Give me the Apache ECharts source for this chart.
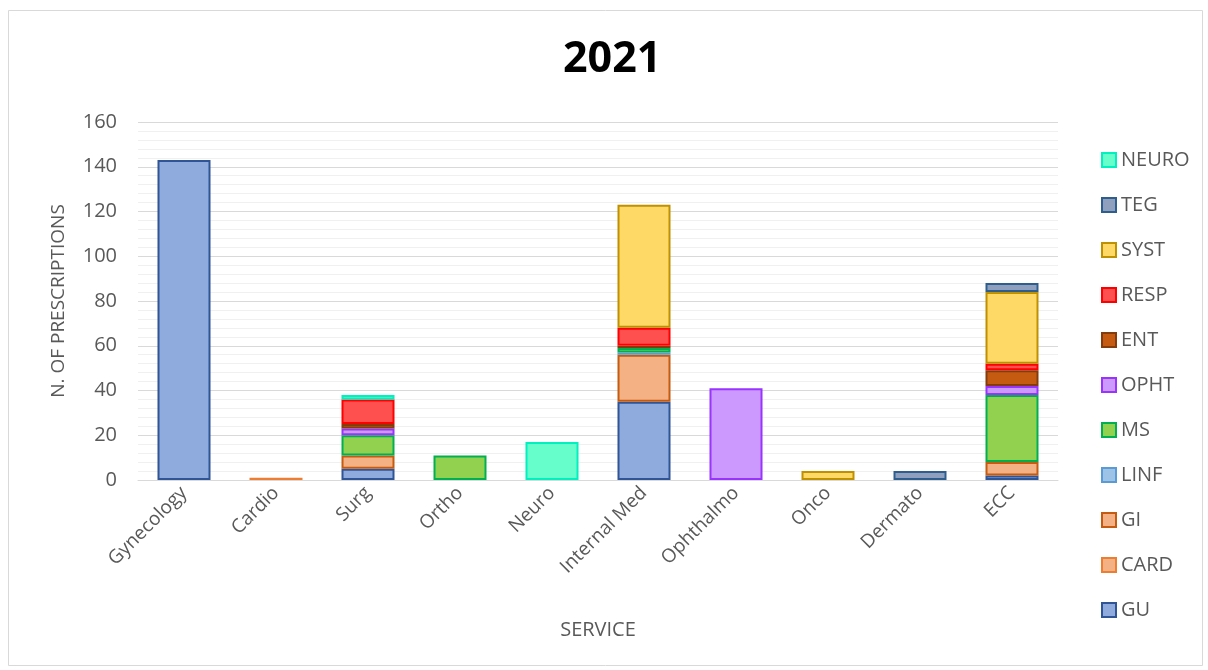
<!DOCTYPE html>
<html>
<head>
<meta charset="utf-8">
<script src="https://cdn.jsdelivr.net/npm/echarts@6/dist/echarts.min.js"></script>
<style>
  html, body { margin: 0; padding: 0; background: #fff; }
  #chart { width: 1208px; height: 670px; }
</style>
</head>
<body>
<div id="chart"></div>
<script>
// Services on the x axis
const categories = ['Gynecology', 'Cardio', 'Surg', 'Ortho', 'Neuro', 'Internal Med', 'Ophthalmo', 'Onco', 'Dermato', 'ECC'];

// Prescriptions per therapeutic class, one value per service
const GU    = [143, 0, 5, 0, 0, 35, 0, 0, 0, 2];
const CARD  = [0, 1, 0, 0, 0, 0, 0, 0, 0, 0];
const GI    = [0, 0, 6, 0, 0, 21, 0, 0, 0, 6];
const LINF  = [0, 0, 0, 0, 0, 1, 0, 0, 0, 0];
const MS    = [0, 0, 9, 11, 0, 2, 0, 0, 0, 30];
const OPHT  = [0, 0, 3, 0, 0, 0, 41, 0, 0, 4];
const ENT   = [0, 0, 2, 0, 0, 1, 0, 0, 0, 7];
const RESP  = [0, 0, 11, 0, 0, 8, 0, 0, 0, 3];
const SYST  = [0, 0, 0, 0, 0, 55, 0, 4, 0, 32];
const TEG   = [0, 0, 0, 0, 0, 0, 0, 0, 4, 4];
const NEURO = [0, 0, 2, 0, 17, 0, 0, 0, 0, 0];

const yTicks = [0, 20, 40, 60, 80, 100, 120, 140, 160];

const seriesDefs = [
  { name: 'GU',    data: GU,    fill: '#8FAADC', line: '#2F5597' },
  { name: 'CARD',  data: CARD,  fill: '#F4B183', line: '#ED7D31' },
  { name: 'GI',    data: GI,    fill: '#F4B183', line: '#C55A11' },
  { name: 'LINF',  data: LINF,  fill: '#9DC3E6', line: '#5B9BD5' },
  { name: 'MS',    data: MS,    fill: '#92D050', line: '#00B050' },
  { name: 'OPHT',  data: OPHT,  fill: '#CC99FF', line: '#9933FF' },
  { name: 'ENT',   data: ENT,   fill: '#C55A11', line: '#843C0C' },
  { name: 'RESP',  data: RESP,  fill: '#FF5050', line: '#FF0000' },
  { name: 'SYST',  data: SYST,  fill: '#FFD966', line: '#BF9000' },
  { name: 'TEG',   data: TEG,   fill: '#8EA0BE', line: '#2E5E8E' },
  { name: 'NEURO', data: NEURO, fill: '#66FFCC', line: '#00F0C0' }
];

const font = 'Open Sans, Lato, sans-serif';
const grey = '#595959';

const chart = echarts.init(document.getElementById('chart'), null, { renderer: 'canvas' });

chart.setOption({
  animation: false,
  backgroundColor: '#fff',
  graphic: [{
    type: 'rect',
    shape: { x: 8.5, y: 10.5, width: 1194, height: 655 },
    style: { fill: 'none', stroke: '#D9D9D9', lineWidth: 1 },
    silent: true
  }, {
    type: 'text',
    left: 563,
    top: 38,
    style: { text: '2021', fontFamily: font, fontWeight: 'bold', fontSize: 43, fill: '#000' },
    silent: true
  }],
  legend: {
    orient: 'vertical',
    left: 1096,
    top: 145,
    itemWidth: 14,
    itemHeight: 14,
    itemGap: 25,
    icon: 'rect',
    textStyle: { fontFamily: font, fontSize: 20, color: grey, padding: [0, 0, 0, 0] },
    data: seriesDefs.map(s => s.name).reverse()
  },
  grid: { left: 138, right: 150, top: 122, bottom: 190 },
  xAxis: {
    type: 'category',
    data: categories,
    name: 'SERVICE',
    nameLocation: 'middle',
    nameGap: 140,
    nameTextStyle: { fontFamily: font, fontSize: 20, color: grey },
    axisLine: { lineStyle: { color: '#D9D9D9', width: 1 } },
    axisTick: { show: false },
    axisLabel: { rotate: 45, fontFamily: font, fontSize: 19, color: grey, margin: 10 }
  },
  yAxis: {
    type: 'value',
    min: yTicks[0],
    max: yTicks[yTicks.length - 1],
    interval: 20,
    name: 'N. OF PRESCRIPTIONS',
    nameLocation: 'middle',
    nameGap: 70,
    nameTextStyle: { fontFamily: font, fontSize: 19, color: grey },
    axisLine: { show: false },
    axisTick: { show: false },
    axisLabel: { fontFamily: font, fontSize: 20, color: grey, margin: 21 },
    splitLine: { lineStyle: { color: '#D9D9D9', width: 1 } },
    minorTick: { show: false, splitNumber: 5 },
    minorSplitLine: { show: true, lineStyle: { color: '#F0F0F0', width: 1 } }
  },
  series: seriesDefs.map(s => ({
    name: s.name,
    type: 'bar',
    stack: 'total',
    barWidth: 53,
    data: s.data.map(v => (v === 0 ? '-' : v)),
    itemStyle: { color: s.fill, borderColor: s.line, borderWidth: 2 },
    emphasis: { disabled: true }
  }))
});
</script>
</body>
</html>
